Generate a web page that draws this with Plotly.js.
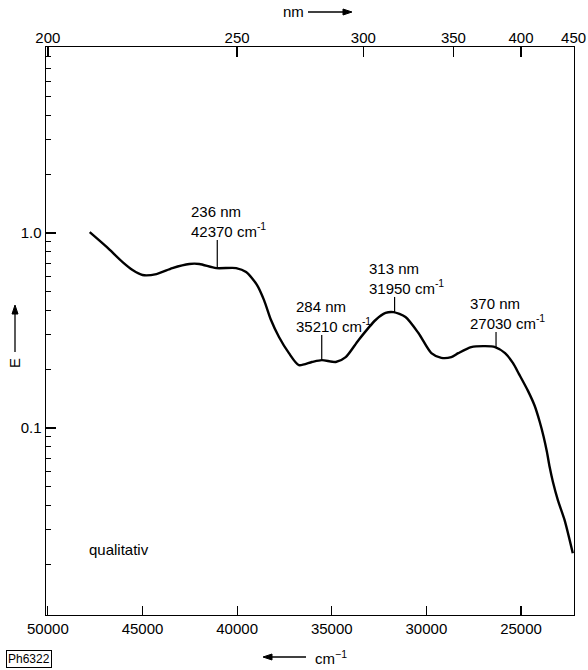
<!DOCTYPE html>
<html>
<head>
<meta charset="utf-8">
<script src="https://cdn.plot.ly/plotly-3.0.1.min.js"></script>
<style>html,body{margin:0;padding:0;background:#fff;}#chart{width:588px;height:670px;}</style>
</head>
<body>
<div id="chart"></div>
<script>
// Wavenumber (cm^-1) and extinction E
const wavenumber = [47790, 46895, 46053, 45526, 45000, 44263, 43421, 42526, 42000, 41105, 40053, 39526, 38947, 38579, 38211, 37789, 37263, 36737, 36053, 35526, 34789, 34263, 33579, 32684, 32158, 31737, 31105, 30421, 29737, 29211, 28684, 28316, 27632, 26895, 26368, 25842, 25421, 25105, 24632, 24279, 24016, 23805, 23632, 23489, 23316, 23053, 22700, 22263];
const extinction = [1.01, 0.848, 0.709, 0.646, 0.609, 0.616, 0.661, 0.694, 0.694, 0.661, 0.661, 0.631, 0.541, 0.453, 0.358, 0.293, 0.242, 0.210, 0.218, 0.223, 0.218, 0.231, 0.283, 0.358, 0.389, 0.393, 0.371, 0.307, 0.242, 0.229, 0.231, 0.242, 0.260, 0.263, 0.260, 0.242, 0.215, 0.189, 0.155, 0.130, 0.108, 0.0902, 0.0755, 0.0632, 0.0530, 0.0427, 0.0338, 0.0228];

// Band labels
const peakNm = ["236 nm", "284 nm", "313 nm", "370 nm"];
const peakCm = ["42370", "35210", "31950", "27030"];
const markX = [41050, 35530, 31680, 26320];
const markLow = [0.661, 0.223, 0.393, 0.260];
const markTop = [0.921, 0.300, 0.470, 0.311];

// Axis ticks
const cmTicks = [50000, 45000, 40000, 35000, 30000, 25000];
const nmTicks = [200, 250, 300, 350, 400, 450];
const eTicks = [1, 0.1];
const eTickText = ["1.0", "0.1"];
const eMinor = [0.02, 0.03, 0.04, 0.05, 0.06, 0.07, 0.08, 0.09, 0.2, 0.3, 0.4, 0.5, 0.6, 0.7, 0.8, 0.9, 2, 3, 4, 5, 6, 7, 8];

const FONT = "Liberation Sans, Arial, sans-serif";
const FS = 15;
const xRange = [50100, 22200];

// pixel -> paper helpers for decorations outside the plot area
const L = 46, R = 574, T = 47, B = 615;
const px = v => (v - L) / (R - L);
const py = v => (B - v) / (B - T);

const traces = [
  {x: wavenumber, y: extinction, type: 'scatter', mode: 'lines',
   line: {color: '#000', width: 2.4, shape: 'spline', smoothing: 0.7}, hoverinfo: 'skip', showlegend: false},
  {x: wavenumber, y: extinction, xaxis: 'x2', type: 'scatter', mode: 'lines',
   line: {color: 'rgba(0,0,0,0)', width: 0}, hoverinfo: 'skip', showlegend: false}
];
markX.forEach((mx, i) => {
  traces.push({x: [mx, mx], y: [markLow[i], markTop[i]], type: 'scatter', mode: 'lines',
    line: {color: '#000', width: 1.2}, hoverinfo: 'skip', showlegend: false});
});

const annotations = peakNm.map((t, i) => ({
  x: markX[i], y: Math.log10(markTop[i]), xref: 'x', yref: 'y',
  text: t + '<br>' + peakCm[i] + ' cm<sup>-1</sup>',
  showarrow: false, xanchor: 'left', yanchor: 'bottom', align: 'left',
  xshift: -27, yshift: -1, borderpad: 0,
  font: {family: FONT, size: FS, color: '#000'}
}));

annotations.push(
  {xref: 'paper', yref: 'paper', x: px(119), y: py(549), xanchor: 'center', yanchor: 'middle',
   text: 'qualitativ', showarrow: false, font: {family: FONT, size: FS, color: '#000'}},
  {xref: 'paper', yref: 'paper', x: px(293), y: py(12), xanchor: 'center', yanchor: 'middle',
   text: 'nm', showarrow: false, font: {family: FONT, size: FS, color: '#000'}},
  {xref: 'paper', yref: 'paper', x: px(331), y: py(657), xanchor: 'center', yanchor: 'middle',
   text: 'cm<sup>−1</sup>', showarrow: false, font: {family: FONT, size: FS, color: '#000'}},
  {xref: 'paper', yref: 'paper', x: px(15), y: py(363), xanchor: 'center', yanchor: 'middle',
   text: 'E', showarrow: false, textangle: -90, font: {family: FONT, size: FS, color: '#000'}},
  {xref: 'paper', yref: 'paper', x: px(29), y: py(659), xanchor: 'center', yanchor: 'middle',
   text: 'Ph6322', showarrow: false, bordercolor: '#000', borderwidth: 1, borderpad: 1, bgcolor: '#fff',
   font: {family: FONT, size: 12, color: '#000'}}
);

function arrowShapes(x0, y0, x1, y1) {
  // line from (x0,y0) to head at (x1,y1), pixel coordinates converted to paper
  const dx = x1 - x0, dy = y1 - y0, len = Math.hypot(dx, dy);
  const ux = dx / len, uy = dy / len, hl = 9, hw = 3;
  const bx = x1 - ux * hl, by = y1 - uy * hl;
  const p1 = [bx - uy * hw, by + ux * hw], p2 = [bx + uy * hw, by - ux * hw];
  return [
    {type: 'line', xref: 'paper', yref: 'paper', x0: px(x0), y0: py(y0), x1: px(bx), y1: py(by),
     line: {color: '#000', width: 1.3}},
    {type: 'path', xref: 'paper', yref: 'paper',
     path: `M ${px(x1)} ${py(y1)} L ${px(p1[0])} ${py(p1[1])} L ${px(p2[0])} ${py(p2[1])} Z`,
     fillcolor: '#000', line: {color: '#000', width: 1}}
  ];
}

const shapes = [].concat(
  arrowShapes(308, 12, 352, 12),
  arrowShapes(306, 657, 263, 657),
  arrowShapes(15, 352, 15, 305)
);

const layout = {
  width: 588, height: 670,
  margin: {l: L, r: 588 - R, t: T, b: 670 - B},
  paper_bgcolor: '#fff', plot_bgcolor: '#fff',
  showlegend: false,
  font: {family: FONT, size: FS, color: '#000'},
  xaxis: {range: xRange, tickmode: 'array', tickvals: cmTicks, ticktext: cmTicks.map(String),
    ticks: 'inside', ticklen: 9, tickwidth: 1.2, tickcolor: '#000',
    showline: true, mirror: true, linecolor: '#000', linewidth: 1.4,
    showgrid: false, zeroline: false, tickfont: {family: FONT, size: FS, color: '#000'}},
  xaxis2: {range: xRange, overlaying: 'x', side: 'top', anchor: 'y', tickmode: 'array',
    tickvals: nmTicks.map(n => 1e7 / n), ticktext: nmTicks.map(String),
    ticks: 'inside', ticklen: 10, tickwidth: 1.3, tickcolor: '#000',
    showline: false, showgrid: false, zeroline: false,
    tickfont: {family: FONT, size: FS, color: '#000'}},
  yaxis: {type: 'log', range: [-1.959, 0.954], tickmode: 'array', tickvals: eTicks, ticktext: eTickText,
    ticks: 'inside', ticklen: 10, tickwidth: 1.2, tickcolor: '#000',
    minor: {tickmode: 'array', tickvals: eMinor, ticks: 'inside', ticklen: 5, tickwidth: 1, tickcolor: '#000', showgrid: false},
    showline: true, mirror: true, linecolor: '#000', linewidth: 1.4,
    showgrid: false, zeroline: false, tickfont: {family: FONT, size: FS, color: '#000'}},
  annotations: annotations,
  shapes: shapes
};

Plotly.newPlot('chart', traces, layout, {staticPlot: true, displayModeBar: false});
</script>
</body>
</html>
